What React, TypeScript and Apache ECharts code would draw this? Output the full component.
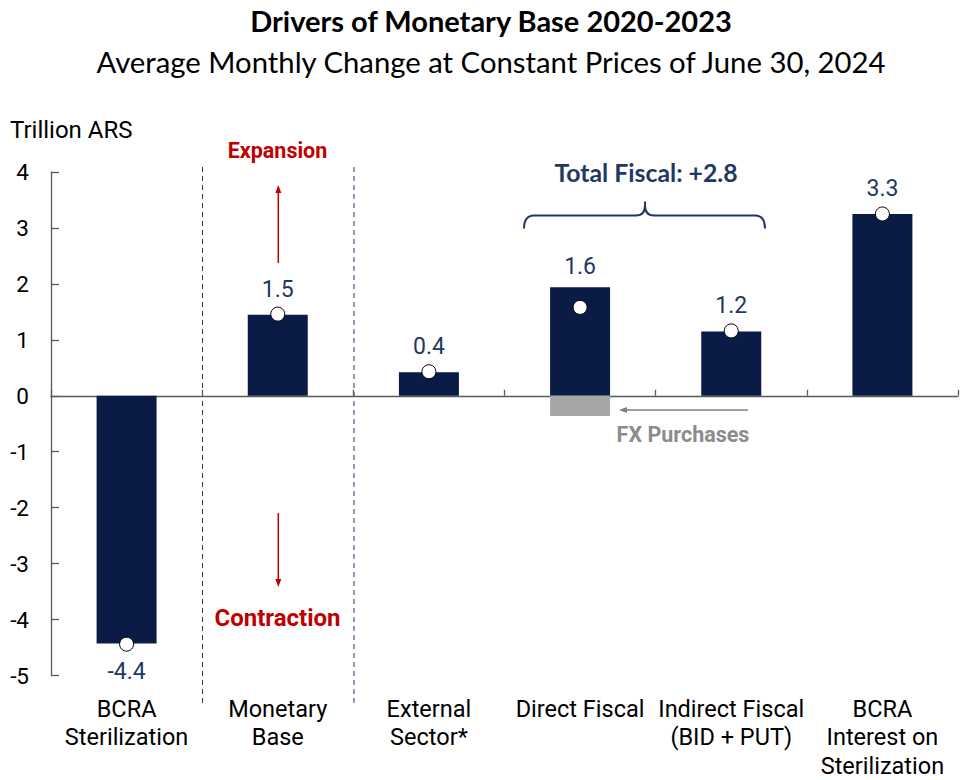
import React, { useEffect, useRef } from "react";
import * as echarts from "echarts";

// ---- data ----
const categories: string[] = [
  "BCRA\nSterilization",
  "Monetary\nBase",
  "External\nSector*",
  "Direct Fiscal",
  "Indirect Fiscal\n(BID + PUT)",
  "BCRA\nInterest on\nSterilization",
];
const barValues: number[] = [-4.43, 1.45, 0.42, 1.94, 1.15, 3.25];
const fxPurchaseValues: (number | null)[] = [null, null, null, -0.36, null, null];
const netValues: number[] = [-4.44, 1.46, 0.43, 1.58, 1.16, 3.25];
const labelTexts: string[] = ["-4.4", "1.5", "0.4", "1.6", "1.2", "3.3"];
const yMin = -5;
const yMax = 4;
const yInterval = 1;

const NAVY = "#0A1B46";
const LABEL_NAVY = "#1F3864";
const RED = "#C00000";
const GREY = "#A6A6A6";
const AXIS = "#595959";

const bracePath =
  "M0 27 Q0 14 10 14 L112 14 Q121 14 121 4 L121 0 L121 4 Q121 14 130 14 L231 14 Q241 14 241 27";
echarts.graphic.registerShape("brace", echarts.graphic.extendPath(bracePath, {}) as any);

export default function App() {
  const ref = useRef<HTMLDivElement>(null);
  useEffect(() => {
    document.body.style.margin = "0";
    const chart = echarts.init(ref.current!, null, { renderer: "svg" });
    const barData = barValues.map((v, i) => ({
      value: v,
      label: { position: v < 0 ? "bottom" : "top", distance: v < 0 ? 16 : i === 3 ? 9 : 14 },
    }));
    const option: any = {
      animation: false,
      backgroundColor: "#ffffff",
      grid: { left: 51, right: 3, top: 172, bottom: 99, containLabel: false },
      xAxis: [
        {
          type: "category",
          data: categories,
          axisLine: { onZero: true, lineStyle: { color: AXIS, width: 1.3 } },
          axisTick: { show: true, inside: true, length: 6, lineStyle: { color: AXIS, width: 1.3 } },
          axisLabel: { show: false },
          splitLine: { show: false },
        },
        {
          type: "category",
          data: categories,
          position: "bottom",
          axisLine: { show: false, onZero: false },
          axisTick: { show: false },
          axisLabel: {
            show: true,
            margin: 19,
            fontFamily: "Roboto",
            fontSize: 23.5,
            lineHeight: 28.5,
            color: "#000000",
            interval: 0,
          },
        },
      ],
      yAxis: {
        type: "value",
        min: yMin,
        max: yMax,
        interval: yInterval,
        axisLine: { show: true, lineStyle: { color: AXIS, width: 1.3 } },
        axisTick: { show: true, inside: true, length: 8, lineStyle: { color: AXIS, width: 1.3 } },
        splitLine: { show: false },
        axisLabel: { margin: 22, fontFamily: "Roboto", fontSize: 22.5, color: "#000000" },
      },
      series: [
        {
          type: "bar",
          stack: "total",
          data: barData,
          barWidth: 60,
          itemStyle: { color: NAVY },
          label: {
            show: true,
            fontFamily: "Roboto",
            fontSize: 23,
            color: LABEL_NAVY,
            formatter: (p: any) => labelTexts[p.dataIndex],
          },
          z: 2,
        },
        {
          type: "bar",
          stack: "total",
          data: fxPurchaseValues,
          barWidth: 60,
          itemStyle: { color: GREY },
          z: 2,
        },
        {
          type: "scatter",
          data: netValues,
          symbol: "circle",
          symbolSize: 14,
          itemStyle: { color: "#ffffff", borderColor: "#000000", borderWidth: 1, opacity: 1 },
          z: 5,
        },
      ],
      graphic: [
        {
          type: "text",
          x: 491,
          y: 20,
          style: {
            text: "Drivers of Monetary Base 2020-2023",
            fontFamily: "Lato",
            fontWeight: "bold",
            fontSize: 29,
            fill: "#000000",
            align: "center",
            verticalAlign: "middle",
          },
        },
        {
          type: "text",
          x: 491,
          y: 61,
          style: {
            text: "Average Monthly Change at Constant Prices of June 30, 2024",
            fontFamily: "Lato",
            fontSize: 29.3,
            fill: "#000000",
            align: "center",
            verticalAlign: "middle",
          },
        },
        {
          type: "text",
          x: 10,
          y: 130,
          style: {
            text: "Trillion ARS",
            fontFamily: "Roboto",
            fontSize: 24,
            fill: "#000000",
            align: "left",
            verticalAlign: "middle",
          },
        },
        {
          type: "line",
          shape: { x1: 202.5, y1: 167, x2: 202.5, y2: 703 },
          style: { stroke: LABEL_NAVY, lineWidth: 1, lineDash: [5, 4] },
        },
        {
          type: "line",
          shape: { x1: 354, y1: 167, x2: 354, y2: 703 },
          style: { stroke: LABEL_NAVY, lineWidth: 1, lineDash: [5, 4] },
        },
        {
          type: "text",
          x: 277.5,
          y: 150,
          style: {
            text: "Expansion",
            fontFamily: "Roboto",
            fontWeight: "bold",
            fontSize: 21.5,
            fill: RED,
            align: "center",
            verticalAlign: "middle",
          },
        },
        {
          type: "line",
          shape: { x1: 278.3, y1: 263, x2: 278.3, y2: 191 },
          style: { stroke: RED, lineWidth: 1.5 },
        },
        {
          type: "polygon",
          shape: { points: [[275.3, 193], [281.3, 193], [278.3, 185]] },
          style: { fill: RED },
        },
        {
          type: "line",
          shape: { x1: 278.3, y1: 513, x2: 278.3, y2: 580 },
          style: { stroke: RED, lineWidth: 1.5 },
        },
        {
          type: "polygon",
          shape: { points: [[275.3, 579], [281.3, 579], [278.3, 587]] },
          style: { fill: RED },
        },
        {
          type: "text",
          x: 277.5,
          y: 618,
          style: {
            text: "Contraction",
            fontFamily: "Roboto",
            fontWeight: "bold",
            fontSize: 24,
            fill: RED,
            align: "center",
            verticalAlign: "middle",
          },
        },
        {
          type: "text",
          x: 646,
          y: 172,
          style: {
            text: "Total Fiscal: +2.8",
            fontFamily: "Lato",
            fontWeight: "bold",
            fontSize: 24.8,
            fill: LABEL_NAVY,
            align: "center",
            verticalAlign: "middle",
          },
        },
        {
          type: "brace",
          x: 524,
          y: 201.5,
          style: { stroke: LABEL_NAVY, fill: "none", lineWidth: 2 },
        },
        {
          type: "line",
          shape: { x1: 748, y1: 410, x2: 626, y2: 410 },
          style: { stroke: "#7F7F7F", lineWidth: 1.5 },
        },
        {
          type: "polygon",
          shape: { points: [[619, 410], [627, 407], [627, 413]] },
          style: { fill: "#7F7F7F" },
        },
        {
          type: "text",
          x: 683,
          y: 434,
          style: {
            text: "FX Purchases",
            fontFamily: "Roboto",
            fontWeight: "bold",
            fontSize: 21.5,
            fill: "#8C8C8C",
            align: "center",
            verticalAlign: "middle",
          },
        },
      ],
    };
    chart.setOption(option);
    return () => chart.dispose();
  }, []);
  return <div ref={ref} style={{ width: 961, height: 780, position: "absolute", left: 0, top: 0 }} />;
}
